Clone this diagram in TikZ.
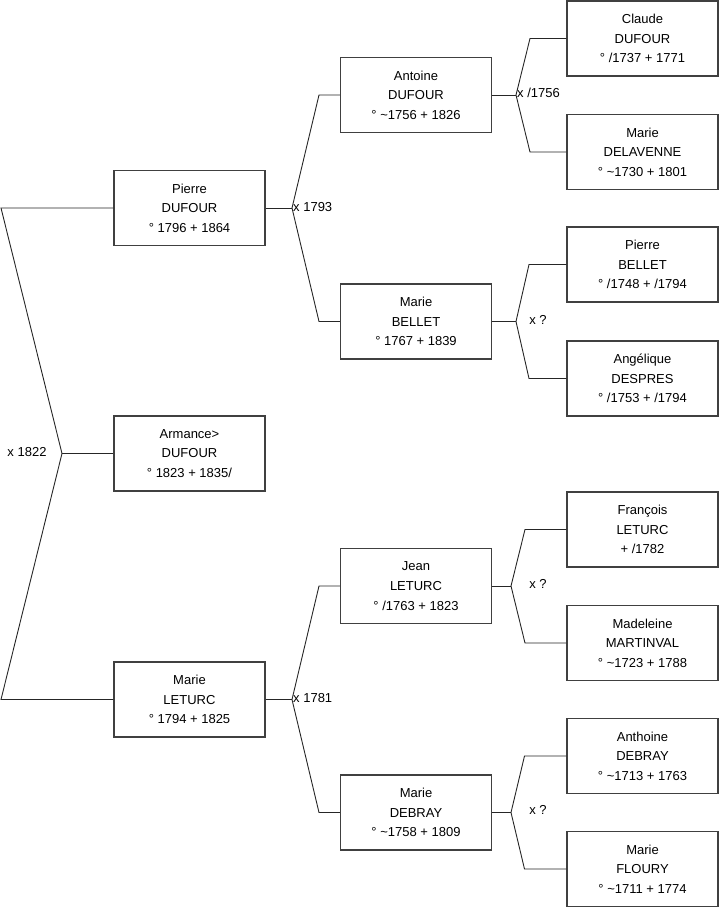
\documentclass[tikz,border=0pt]{standalone}
\usepackage{fontspec}
\setmainfont{Liberation Sans}
\begin{document}
\begin{tikzpicture}[x=1pt,y=-1pt,
  person/.style={draw=black!75, line width=1.1pt, fill=white, minimum width=151pt, minimum height=75pt, inner sep=0pt, align=center, font=\fontsize{13}{19.6}\selectfont},
  link/.style={draw=black!85, line width=0.9pt},
  lbl/.style={font=\fontsize{13}{15}\selectfont, inner sep=0pt}]
\useasboundingbox (0,0) rectangle (719,908);
% generation 1
\node[person] (pierre) at (189.5,208) {Pierre\\DUFOUR\\° 1796 + 1864};
\node[person] (armance) at (189.5,453.5) {Armance>\\DUFOUR\\° 1823 + 1835/};
\node[person] (marieL) at (189.5,699.5) {Marie\\LETURC\\° 1794 + 1825};
% generation 2
\node[person] (antoine) at (416,95) {Antoine\\DUFOUR\\° \textasciitilde1756 + 1826};
\node[person] (marieB) at (416,321.5) {Marie\\BELLET\\° 1767 + 1839};
\node[person] (jean) at (416,586) {Jean\\LETURC\\° /1763 + 1823};
\node[person] (marieD) at (416,812.5) {Marie\\DEBRAY\\° \textasciitilde1758 + 1809};
% generation 3
\node[person] (claude) at (642.5,38.5) {Claude\\DUFOUR\\° /1737 + 1771};
\node[person] (delavenne) at (642.5,152) {Marie\\DELAVENNE\\° \textasciitilde1730 + 1801};
\node[person] (pierreB) at (642.5,264.5) {Pierre\\BELLET\\° /1748 + /1794};
\node[person] (angelique) at (642.5,378.5) {Angélique\\DESPRES\\° /1753 + /1794};
\node[person] (francois) at (642.5,529.5) {François\\LETURC\\ + /1782};
\node[person] (madeleine) at (642.5,643) {Madeleine\\MARTINVAL\\° \textasciitilde1723 + 1788};
\node[person] (anthoine) at (642.5,756) {Anthoine\\DEBRAY\\° \textasciitilde1713 + 1763};
\node[person] (floury) at (642.5,869) {Marie\\FLOURY\\° \textasciitilde1711 + 1774};
% junction coordinates
\coordinate (j0) at (62,453.5);
\coordinate (j0a) at (1,208);
\coordinate (j0b) at (1,699.5);
\coordinate (j1) at (292,208);
\coordinate (j1a) at (319,95);
\coordinate (j1b) at (319,321.5);
\coordinate (j2) at (292,699.5);
\coordinate (j2a) at (319,586);
\coordinate (j2b) at (319,812.5);
\coordinate (j3) at (516,95);
\coordinate (j3a) at (530,38.5);
\coordinate (j3b) at (530,152);
\coordinate (j4) at (516,321.5);
\coordinate (j4a) at (529,264.5);
\coordinate (j4b) at (529,378.5);
\coordinate (j5) at (511,586);
\coordinate (j5a) at (525,529.5);
\coordinate (j5b) at (525,643);
\coordinate (j6) at (511,812.5);
\coordinate (j6a) at (524.5,756);
\coordinate (j6b) at (524.5,869);
% connectors
\draw[link] (pierre.west) -- (j0a) -- (j0) -- (j0b) -- (marieL.west);
\draw[link] (j0) -- (armance.west);
\draw[link] (pierre.east) -- (j1);
\draw[link] (j1) -- (j1a) -- (antoine.west);
\draw[link] (j1) -- (j1b) -- (marieB.west);
\draw[link] (marieL.east) -- (j2);
\draw[link] (j2) -- (j2a) -- (jean.west);
\draw[link] (j2) -- (j2b) -- (marieD.west);
\draw[link] (antoine.east) -- (j3);
\draw[link] (j3) -- (j3a) -- (claude.west);
\draw[link] (j3) -- (j3b) -- (delavenne.west);
\draw[link] (marieB.east) -- (j4);
\draw[link] (j4) -- (j4a) -- (pierreB.west);
\draw[link] (j4) -- (j4b) -- (angelique.west);
\draw[link] (jean.east) -- (j5);
\draw[link] (j5) -- (j5a) -- (francois.west);
\draw[link] (j5) -- (j5b) -- (madeleine.west);
\draw[link] (marieD.east) -- (j6);
\draw[link] (j6) -- (j6a) -- (anthoine.west);
\draw[link] (j6) -- (j6b) -- (floury.west);
% marriage labels
\node[lbl] (m0) at (27,452) {x 1822};
\node[lbl, anchor=west] (m1) at (293,207) {x 1793};
\node[lbl, anchor=west] (m2) at (293,698) {x 1781};
\node[lbl, anchor=west] (m3) at (517,93) {x /1756};
\node[lbl] (m4) at (538,320) {x ?};
\node[lbl] (m5) at (538,584) {x ?};
\node[lbl] (m6) at (538,810) {x ?};
\end{tikzpicture}
\end{document}
